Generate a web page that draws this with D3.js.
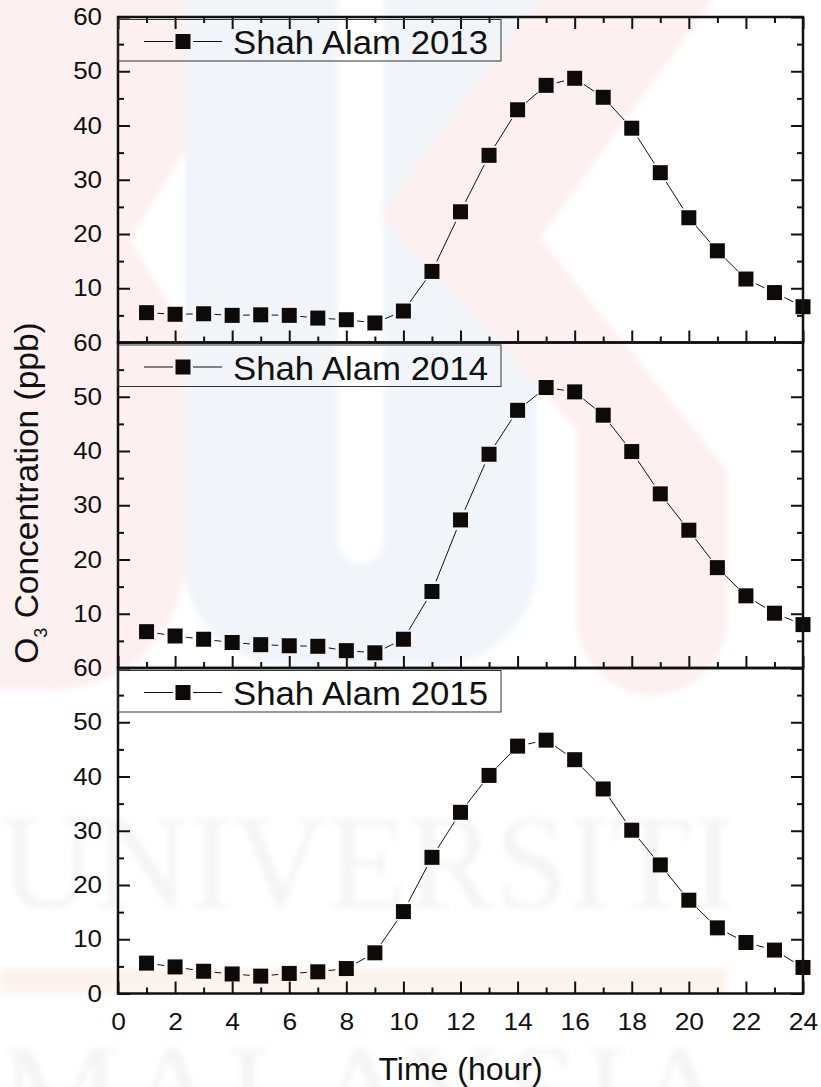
<!DOCTYPE html>
<html>
<head>
<meta charset="utf-8">
<script src="https://cdn.jsdelivr.net/npm/d3@7"></script>
<style>
  html, body { margin: 0; padding: 0; background: #fff; }
  svg { display: block; }
  text { font-family: "Liberation Sans", Arial, sans-serif; fill: #111; }
</style>
</head>
<body>
<div id="chart"></div>
<script>
// Hourly mean O3 at Shah Alam, one panel per year
const hours = [1,2,3,4,5,6,7,8,9,10,11,12,13,14,15,16,17,18,19,20,21,22,23,24];
const years = ["Shah Alam 2013", "Shah Alam 2014", "Shah Alam 2015"];
const o3_2013 = [5.5,5.2,5.3,5.0,5.1,5.0,4.5,4.2,3.6,5.8,13.1,24.1,34.5,42.9,47.4,48.7,45.2,39.5,31.3,23.0,16.9,11.7,9.2,6.6];
const o3_2014 = [6.7,5.9,5.3,4.7,4.3,4.1,4.0,3.2,2.8,5.3,14.1,27.3,39.4,47.5,51.7,50.9,46.6,39.9,32.1,25.4,18.5,13.3,10.1,8.0];
const o3_2015 = [5.6,4.9,4.1,3.6,3.2,3.7,4.0,4.6,7.5,15.1,25.1,33.4,40.2,45.6,46.7,43.1,37.7,30.1,23.7,17.2,12.1,9.4,8.0,4.8];
const series = [o3_2013, o3_2014, o3_2015];

const xTicks = [0,2,4,6,8,10,12,14,16,18,20,22,24];
const xMinorTicks = [1,3,5,7,9,11,13,15,17,19,21,23];
const yTicksTop = [10,20,30,40,50,60];
const yTicksBottom = [0,10,20,30,40,50,60];
const yMinorTicks = [5,15,25,35,45,55];
const xTitle = "Time (hour)";

const W = 821, H = 1087;
const left = 118, right = 803;
const panelTops = [17, 342.5, 668];
const panelH = 325.5;

const svg = d3.select("#chart").append("svg")
  .attr("width", W).attr("height", H)
  .attr("viewBox", `0 0 ${W} ${H}`);

svg.append("rect").attr("width", W).attr("height", H).attr("fill", "#fff");

const defs = svg.append("defs");
defs.append("filter").attr("id", "soft")
  .attr("x", "-5%").attr("y", "-5%").attr("width", "110%").attr("height", "110%")
  .append("feGaussianBlur").attr("stdDeviation", 3);

// faint page watermark behind the plot
const wm = svg.append("g").attr("filter", "url(#soft)");
wm.append("path")
  .attr("d", "M185,-10 H537 V565 A100,100 0 0 1 437,665 H285 A100,100 0 0 1 185,565 Z")
  .attr("fill", "#f1f5f9");
wm.append("path")
  .attr("d", "M338,-10 H383 V541 A22.5,22.5 0 0 1 338,541 Z")
  .attr("fill", "#ffffff");
wm.append("path")
  .attr("d", "M-10,-10 H185 V150 L130,240 L185,330 V560 A130,130 0 0 1 55,690 H-10 Z")
  .attr("fill", "#fdf0f0");
wm.append("path")
  .attr("d", "M545,-10 H720 L540,238 L727,470 V620 A75,75 0 0 1 577,620 V430 L380,215 Z")
  .attr("fill", "#fdf0f0");
wm.append("rect").attr("x", 0).attr("y", 968).attr("width", 727).attr("height", 26)
  .attr("fill", "#fdf3ed");
wm.append("text").text("UNIVERSITI")
  .attr("x", 0).attr("y", 908)
  .attr("textLength", 735).attr("lengthAdjust", "spacingAndGlyphs")
  .style("font-family", "'Liberation Serif', 'Times New Roman', serif")
  .style("font-size", "136px").style("fill", "#f4f4f4");
wm.append("text").text("MALAYSIA")
  .attr("x", 0).attr("y", 1138)
  .attr("textLength", 730).attr("lengthAdjust", "spacing")
  .style("font-family", "'Liberation Serif', 'Times New Roman', serif")
  .style("font-size", "136px").style("fill", "#f4f4f4");

const x = d3.scaleLinear().domain([0, 24]).range([left, right]);

function stretch(sel, k) {
  sel.each(function () {
    const t = d3.select(this);
    t.attr("textLength", this.getComputedTextLength() * k)
     .attr("lengthAdjust", "spacingAndGlyphs");
  });
}

function styleAxis(g) {
  g.select(".domain").remove();
  g.selectAll(".tick line").attr("stroke", "#111").attr("stroke-width", 2);
}

panelTops.forEach((top, i) => {
  const y = d3.scaleLinear().domain([0, 60]).range([top + panelH, top]);
  const g = svg.append("g");
  const isLast = i === panelTops.length - 1;

  // left axis: major with labels, minor ticks
  const yl = g.append("g").attr("transform", `translate(${left},0)`)
    .call(d3.axisLeft(y).tickValues(isLast ? yTicksBottom : yTicksTop)
      .tickSize(-12).tickPadding(16).tickFormat(d3.format("d")));
  styleAxis(yl);
  yl.selectAll("text").style("font-size", "24px").style("fill", "#111");
  stretch(yl.selectAll("text"), 1.08);
  const ylm = g.append("g").attr("transform", `translate(${left},0)`)
    .call(d3.axisLeft(y).tickValues(yMinorTicks).tickSize(-6).tickFormat(""));
  styleAxis(ylm);

  // right axis ticks
  const yr = g.append("g").attr("transform", `translate(${right},0)`)
    .call(d3.axisRight(y).tickValues(yTicksBottom).tickSize(-12).tickFormat(""));
  styleAxis(yr);
  const yrm = g.append("g").attr("transform", `translate(${right},0)`)
    .call(d3.axisRight(y).tickValues(yMinorTicks).tickSize(-6).tickFormat(""));
  styleAxis(yrm);

  // bottom axis ticks (labels on the last panel only)
  const xb = g.append("g").attr("transform", `translate(0,${top + panelH})`)
    .call(d3.axisBottom(x).tickValues(xTicks).tickSize(-12).tickPadding(19)
      .tickFormat(isLast ? d3.format("d") : ""));
  styleAxis(xb);
  xb.selectAll("text").style("font-size", "24px").style("fill", "#111");
  if (isLast) stretch(xb.selectAll("text"), 1.1);
  const xbm = g.append("g").attr("transform", `translate(0,${top + panelH})`)
    .call(d3.axisBottom(x).tickValues(xMinorTicks).tickSize(-6).tickFormat(""));
  styleAxis(xbm);

  if (i === 0) {
    const xt = g.append("g").attr("transform", `translate(0,${top})`)
      .call(d3.axisTop(x).tickValues(xTicks).tickSize(-12).tickFormat(""));
    styleAxis(xt);
    const xtm = g.append("g").attr("transform", `translate(0,${top})`)
      .call(d3.axisTop(x).tickValues(xMinorTicks).tickSize(-6).tickFormat(""));
    styleAxis(xtm);
  }

  // connecting line with a small gap around every marker
  const pts = hours.map((h, j) => [x(h), y(series[i][j])]);
  const gap = 11;
  const segs = [];
  for (let j = 0; j < pts.length - 1; j++) {
    const [x1, y1] = pts[j], [x2, y2] = pts[j + 1];
    const L = Math.hypot(x2 - x1, y2 - y1);
    if (L <= 2 * gap) continue;
    const ux = (x2 - x1) / L, uy = (y2 - y1) / L;
    segs.push([x1 + ux * gap, y1 + uy * gap, x2 - ux * gap, y2 - uy * gap]);
  }
  g.append("g").selectAll("line").data(segs).join("line")
    .attr("x1", d => d[0]).attr("y1", d => d[1])
    .attr("x2", d => d[2]).attr("y2", d => d[3])
    .attr("stroke", "#111").attr("stroke-width", 1);

  const ms = 15;
  g.append("g").selectAll("rect").data(hours).join("rect")
    .attr("x", h => x(h) - ms / 2)
    .attr("y", (h, j) => y(series[i][j]) - ms / 2)
    .attr("width", ms).attr("height", ms)
    .attr("fill", "#0f0a0a");

  // frame
  g.append("rect")
    .attr("x", left).attr("y", top)
    .attr("width", right - left).attr("height", panelH)
    .attr("fill", "none").attr("stroke", "#111").attr("stroke-width", 2.5);

  // legend
  const lg = g.append("g");
  lg.append("rect")
    .attr("x", left).attr("y", top + 2.5)
    .attr("width", 383).attr("height", 41.5)
    .attr("fill", "none").attr("stroke", "#333").attr("stroke-width", 1);
  const ly = top + 24.5;
  lg.append("line").attr("x1", 144).attr("x2", 173).attr("y1", ly).attr("y2", ly)
    .attr("stroke", "#111").attr("stroke-width", 1);
  lg.append("line").attr("x1", 193).attr("x2", 222).attr("y1", ly).attr("y2", ly)
    .attr("stroke", "#111").attr("stroke-width", 1);
  lg.append("rect").attr("x", 183 - ms / 2).attr("y", ly - ms / 2)
    .attr("width", ms).attr("height", ms).attr("fill", "#0f0a0a");
  lg.append("text").text(years[i])
    .attr("x", 233).attr("y", top + 37)
    .attr("textLength", 255).attr("lengthAdjust", "spacingAndGlyphs")
    .style("font-size", "32.5px");
});

// axis titles
svg.append("text").text(xTitle)
  .attr("x", (left + right) / 2).attr("y", 1080)
  .attr("text-anchor", "middle")
  .style("font-size", "32px");

const yt = svg.append("text")
  .attr("transform", "translate(38,493) rotate(-90)")
  .attr("text-anchor", "middle")
  .style("font-size", "33.5px");
yt.append("tspan").text("O");
yt.append("tspan").text("3").attr("dy", 9).style("font-size", "18px");
yt.append("tspan").text(" Concentration (ppb)").attr("dy", -9);
</script>
</body>
</html>
